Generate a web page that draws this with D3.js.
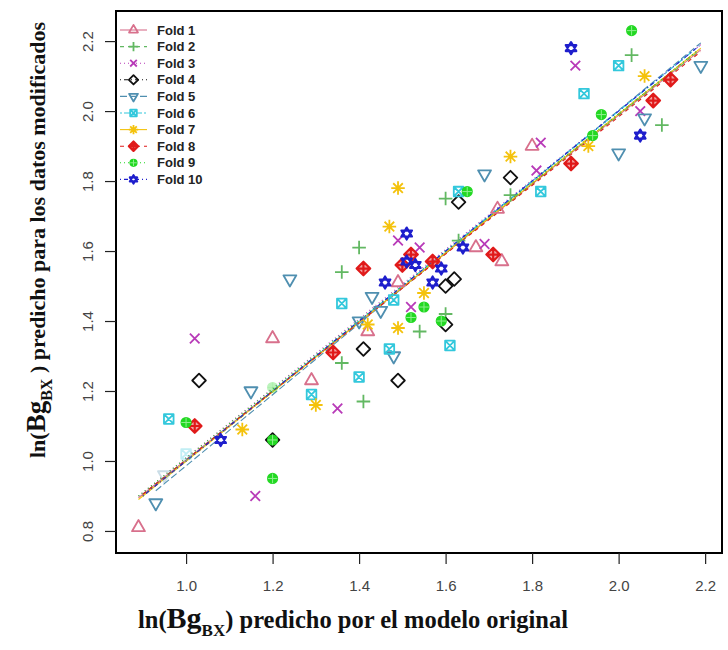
<!DOCTYPE html>
<html>
<head>
<meta charset="utf-8">
<script src="https://cdn.jsdelivr.net/npm/d3@7"></script>
<style>
  body { margin: 0; background: #fff; }
  svg { display: block; }
  .tick text { font-family: "Liberation Sans", Arial, sans-serif; font-size: 15px; fill: #444; }
  .axis-title { font-family: "Liberation Serif", "Times New Roman", serif; font-weight: bold; fill: #111; }
  .legend text { font-family: "Liberation Sans", Arial, sans-serif; font-weight: bold; font-size: 13px; fill: #222; }
</style>
</head>
<body>
<svg id="chart"></svg>
<script>
// tick labels
const xTicks = [1.0, 1.2, 1.4, 1.6, 1.8, 2.0, 2.2];
const yTicks = [0.8, 1.0, 1.2, 1.4, 1.6, 1.8, 2.0, 2.2];

const folds = ['Fold 1', 'Fold 2', 'Fold 3', 'Fold 4', 'Fold 5', 'Fold 6', 'Fold 7', 'Fold 8', 'Fold 9', 'Fold 10'];

// points per fold: [original model, modified data]
const fold1 = [[0.89, 0.81], [1.29, 1.23], [1.20, 1.35], [1.42, 1.37], [1.49, 1.51], [1.67, 1.61], [1.73, 1.57], [1.72, 1.72], [1.80, 1.90]];
const fold2 = [[1.36, 1.28], [1.41, 1.17], [1.40, 1.61], [1.36, 1.54], [1.54, 1.37], [1.60, 1.42], [1.60, 1.75], [1.75, 1.76], [2.03, 2.16], [2.10, 1.96], [1.63, 1.63]];
const fold3 = [[1.02, 1.35], [1.16, 0.90], [1.35, 1.15], [1.52, 1.44], [1.49, 1.63], [1.54, 1.61], [1.69, 1.62], [1.81, 1.83], [1.82, 1.91], [1.90, 2.13], [2.05, 2.00]];
const fold4 = [[1.03, 1.23], [1.20, 1.06], [1.41, 1.32], [1.49, 1.23], [1.60, 1.39], [1.62, 1.52], [1.60, 1.50], [1.75, 1.81], [1.63, 1.74]];
const fold5 = [[0.93, 0.88], [1.15, 1.20], [1.24, 1.52], [1.43, 1.47], [1.45, 1.43], [1.40, 1.40], [1.48, 1.30], [1.69, 1.82], [2.00, 1.88], [2.19, 2.13], [2.06, 1.98]];
const fold6 = [[0.96, 1.12], [1.29, 1.19], [1.40, 1.24], [1.36, 1.45], [1.47, 1.32], [1.48, 1.46], [1.61, 1.33], [1.63, 1.77], [1.82, 1.77], [1.92, 2.05], [2.00, 2.13]];
const fold7 = [[1.13, 1.09], [1.30, 1.16], [1.42, 1.39], [1.49, 1.38], [1.55, 1.48], [1.47, 1.67], [1.49, 1.78], [1.75, 1.87], [1.93, 1.90], [2.06, 2.10]];
const fold8 = [[1.02, 1.10], [1.34, 1.31], [1.41, 1.55], [1.52, 1.59], [1.50, 1.56], [1.57, 1.57], [1.71, 1.59], [1.89, 1.85], [2.08, 2.03], [2.12, 2.09]];
const fold9 = [[1.00, 1.11], [1.20, 1.06], [1.20, 0.95], [1.55, 1.44], [1.52, 1.41], [1.59, 1.40], [1.65, 1.77], [1.96, 1.99], [1.94, 1.93], [2.03, 2.23]];
const fold10 = [[1.08, 1.06], [1.51, 1.65], [1.51, 1.57], [1.53, 1.56], [1.59, 1.55], [1.57, 1.51], [1.46, 1.51], [1.64, 1.61], [1.89, 2.18], [2.05, 1.93]];

// faint points sitting under the fit lines: fold index, x, y
const faintPoints = [[5, 1.00, 1.02], [4, 0.95, 0.96], [8, 1.20, 1.21]];

// fitted line per fold: x0, y0, x1, y1
const fitLines = [
  [0.89, 0.895, 2.19, 2.175],
  [0.90, 0.905, 2.18, 2.165],
  [0.89, 0.900, 2.19, 2.190],
  [0.90, 0.900, 2.18, 2.170],
  [0.93, 0.915, 2.19, 2.195],
  [0.90, 0.900, 2.18, 2.180],
  [0.89, 0.890, 2.19, 2.180],
  [0.90, 0.905, 2.19, 2.170],
  [0.89, 0.900, 2.18, 2.170],
  [0.90, 0.900, 2.19, 2.190]
];

const foldData = [fold1, fold2, fold3, fold4, fold5, fold6, fold7, fold8, fold9, fold10];

const colors = ['#d8708c', '#62b862', '#b83ab8', '#111111', '#4f8fb0', '#33c8dc', '#f4c20c', '#e01a1a', '#22d822', '#1e1ecc'];
const pchs = [2, 3, 4, 5, 6, 7, 8, 9, 10, 11];
const dashes = [null, '4,4', '1,3', '1,3,4,3', '7,3', '2,2,6,2', null, '4,4', '1,3', '1,3,4,3'];

const W = 728, H = 650;
const BOX = { left: 116, right: 722, top: 11, bottom: 553 };

const svg = d3.select('#chart').attr('width', W).attr('height', H);

const x = d3.scaleLinear().domain([0.838, 2.239]).range([BOX.left, BOX.right]);
const y = d3.scaleLinear().domain([0.737, 2.286]).range([BOX.bottom, BOX.top]);

// R-like plotting symbols, s = base radius
function symbolPath(pch, s) {
  const q = Math.SQRT2 * s;
  const tr = 1.555 * s, th = 1.347 * s, tb = 0.778 * s;
  switch (pch) {
    case 2: return `M0,${-tr}L${th},${tb}L${-th},${tb}Z`;
    case 3: return `M${-q},0H${q}M0,${-q}V${q}`;
    case 4: return `M${-s},${-s}L${s},${s}M${-s},${s}L${s},${-s}`;
    case 5: return `M0,${-q}L${q},0L0,${q}L${-q},0Z`;
    case 6: return `M0,${tr}L${th},${-tb}L${-th},${-tb}Z`;
    case 7: return `M${-s},${-s}H${s}V${s}H${-s}ZM${-s},${-s}L${s},${s}M${-s},${s}L${s},${-s}`;
    case 8: return `M${-q},0H${q}M0,${-q}V${q}M${-s},${-s}L${s},${s}M${-s},${s}L${s},${-s}`;
    case 9: return `M0,${-q}L${q},0L0,${q}L${-q},0ZM${-q},0H${q}M0,${-q}V${q}`;
    case 10: return `M${-s},0H${s}M0,${-s}V${s}`;
    case 11: {
      const a = 1.25 * s, b = 1.1 * s, c = 0.62 * s;
      return `M0,${-a}L${b},${c}L${-b},${c}ZM0,${a}L${b},${-c}L${-b},${-c}Z`;
    }
  }
}

function drawSymbol(g, i, s, opacity) {
  const pch = pchs[i];
  const op = opacity == null ? 1 : opacity;
  if (pch === 10) {
    g.append('circle').attr('r', s).attr('fill', colors[i])
      .attr('stroke', colors[i]).attr('stroke-width', 1.6).attr('opacity', op);
  }
  g.append('path')
    .attr('d', symbolPath(pch, s))
    .attr('fill', pch === 9 ? 'rgba(224,26,26,0.4)' : 'none')
    .attr('stroke', pch === 10 ? '#8cf08c' : colors[i])
    .attr('stroke-width', pch === 10 ? 1 : (pch === 9 || pch === 11 ? 2.2 : 1.8))
    .attr('stroke-linejoin', 'round')
    .attr('opacity', op);
}

// fit lines
svg.append('g')
  .selectAll('line')
  .data(fitLines)
  .join('line')
  .attr('x1', d => x(d[0]))
  .attr('y1', d => y(d[1]))
  .attr('x2', d => x(d[2]))
  .attr('y2', d => y(d[3]))
  .attr('stroke', (d, i) => colors[i])
  .attr('stroke-width', 1.1)
  .attr('stroke-dasharray', (d, i) => dashes[i]);

// faint points
faintPoints.forEach(p => {
  const g = svg.append('g').attr('transform', `translate(${x(p[1])},${y(p[2])})`);
  drawSymbol(g, p[0], 4.8, 0.3);
});

// points
foldData.forEach((pts, i) => {
  svg.append('g')
    .selectAll('g')
    .data(pts)
    .join('g')
    .attr('transform', d => `translate(${x(d[0])},${y(d[1])})`)
    .each(function () { drawSymbol(d3.select(this), i, 4.8); });
});

// box
svg.append('rect')
  .attr('x', BOX.left).attr('y', BOX.top)
  .attr('width', BOX.right - BOX.left).attr('height', BOX.bottom - BOX.top)
  .attr('fill', 'none').attr('stroke', '#000').attr('stroke-width', 2);

// axes
const xAxis = svg.append('g')
  .attr('transform', `translate(0,${BOX.bottom})`)
  .call(d3.axisBottom(x).tickValues(xTicks).tickSize(11).tickPadding(16).tickFormat(d3.format('.1f')));
xAxis.select('.domain').remove();
xAxis.selectAll('.tick line').attr('stroke', '#222').attr('stroke-width', 1.2);

const yAxis = svg.append('g')
  .attr('transform', `translate(${BOX.left},0)`)
  .call(d3.axisLeft(y).tickValues(yTicks).tickSize(11).tickFormat(d3.format('.1f')));
yAxis.select('.domain').remove();
yAxis.selectAll('.tick line').attr('stroke', '#222').attr('stroke-width', 1.2);
yAxis.selectAll('.tick text')
  .attr('x', null).attr('dy', null)
  .attr('text-anchor', 'middle')
  .attr('transform', 'translate(-23,0) rotate(-90)');

// axis titles
const xt = svg.append('text').attr('class', 'axis-title')
  .attr('x', 138).attr('y', 628).attr('font-size', 24.5);
xt.append('tspan').text('ln(');
xt.append('tspan').attr('font-size', 30).text('Bg');
xt.append('tspan').attr('font-size', 17).attr('dy', 8).text('BX');
xt.append('tspan').attr('dy', -8).text(') predicho por el modelo original');

const yt = svg.append('text').attr('class', 'axis-title')
  .attr('transform', 'translate(45,458) rotate(-90)').attr('font-size', 22);
yt.append('tspan').text('ln(');
yt.append('tspan').attr('font-size', 27).text('Bg');
yt.append('tspan').attr('font-size', 16).attr('dy', 7).text('BX');
yt.append('tspan').attr('dy', -7).text(' ) predicho para los datos modificados');

// legend
const legend = svg.append('g').attr('class', 'legend');
folds.forEach((name, i) => {
  const ly = 30 + i * 16.6;
  const row = legend.append('g').attr('transform', `translate(0,${ly})`);
  row.append('line')
    .attr('x1', 120).attr('x2', 147)
    .attr('stroke', colors[i]).attr('stroke-width', 1.1)
    .attr('stroke-dasharray', dashes[i]);
  const sg = row.append('g').attr('transform', 'translate(133.5,0)');
  drawSymbol(sg, i, 3.3);
  row.append('text').attr('x', 157).attr('y', 0).attr('dy', '0.35em').text(name);
});
</script>
</body>
</html>
